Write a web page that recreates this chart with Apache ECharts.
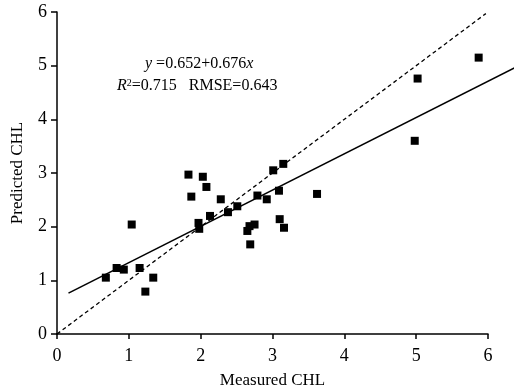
<!DOCTYPE html>
<html><head><meta charset="utf-8">
<script src="https://cdn.jsdelivr.net/npm/echarts@6/dist/echarts.min.js"></script>
<style>html,body{margin:0;padding:0;background:#fff}#c{width:514px;height:387px}</style>
</head><body><div id="c"></div>
<script>
const measured = [0.68,0.83,0.93,1.04,1.15,1.23,1.34,1.83,1.87,1.97,1.98,2.03,2.08,2.13,2.28,2.38,2.51,2.65,2.68,2.69,2.75,2.79,2.92,3.01,3.15,3.09,3.62,3.10,3.16,4.98,5.02,5.87];
const predicted = [1.05,1.23,1.20,2.04,1.23,0.79,1.05,2.97,2.56,2.07,1.96,2.93,2.74,2.20,2.51,2.27,2.38,1.92,2.01,1.67,2.04,2.58,2.51,3.05,3.17,2.67,2.61,2.14,1.98,3.60,4.76,5.15];
const fitIntercept = 0.652, fitSlope = 0.676;
const fitRangeX = [0.16, 6.4];
const oneToOneX = [0, 5.97];
const xTicks = [0,1,2,3,4,5,6];
const yTicks = [0,1,2,3,4,5,6];
const xName = 'Measured CHL', yName = 'Predicted CHL';

const W = 514, gl = 57, gr = 26, gt = 12, gb = 53;
const xMax = 6, yMax = 6;
const xMaxExt = xMax * (W - gl) / (W - gl - gr);

const pts = measured.map((x,i)=>[x,predicted[i]]);
const fitLine = fitRangeX.map(x=>[x, fitIntercept + fitSlope*x]);
const diag = oneToOneX.map(x=>[x,x]);
const font = '"Liberation Serif","Times New Roman",serif';

const chart = echarts.init(document.getElementById('c'));
chart.setOption({
  animation:false,
  backgroundColor:'#fff',
  grid:[{left:gl,right:gr,top:gt,bottom:gb,containLabel:false,outerBoundsMode:'none'},
        {left:gl,right:0,top:gt,bottom:gb,containLabel:false,outerBoundsMode:'none'}],
  xAxis:[{type:'value',min:0,max:xMax,interval:1,gridIndex:0,
    name:xName,nameLocation:'middle',nameGap:38,
    nameTextStyle:{fontFamily:font,fontSize:17,color:'#000'},
    axisLine:{lineStyle:{color:'#000',width:1.5}},
    axisTick:{length:5,lineStyle:{color:'#000',width:1.5}},
    axisLabel:{fontFamily:font,fontSize:18,color:'#000',margin:13},
    splitLine:{show:false}},
   {type:'value',min:0,max:xMaxExt,gridIndex:1,show:false}],
  yAxis:[{type:'value',min:0,max:yMax,interval:1,gridIndex:0,
    name:yName,nameLocation:'middle',nameGap:31,
    nameTextStyle:{fontFamily:font,fontSize:17,color:'#000'},
    axisLine:{show:true,lineStyle:{color:'#000',width:1.5}},
    axisTick:{show:true,length:6,lineStyle:{color:'#000',width:1.5}},
    axisLabel:{fontFamily:font,fontSize:18,color:'#000',margin:10},
    splitLine:{show:false}},
   {type:'value',min:0,max:yMax,gridIndex:1,show:false}],
  graphic:[{
    type:'text',left:145,top:56,
    style:{text:'{i|y} =0.652+0.676{i|x}',
      font:'16px '+font,fill:'#000',
      rich:{i:{fontStyle:'italic',fontFamily:font,fontSize:16}}}
  },{
    type:'text',left:117,top:78,
    style:{text:'{i|R}{s|2}=0.715   RMSE=0.643',
      font:'16px '+font,fill:'#000',
      rich:{i:{fontStyle:'italic',fontFamily:font,fontSize:16},
            s:{fontFamily:font,fontSize:10,verticalAlign:'top',padding:[0,0,6,0]}}}
  }],
  series:[
    {type:'line',data:diag,xAxisIndex:0,yAxisIndex:0,symbol:'none',lineStyle:{color:'#000',width:1.3,type:[4,3]},z:1},
    {type:'line',data:fitLine,xAxisIndex:1,yAxisIndex:1,symbol:'none',lineStyle:{color:'#000',width:1.5},z:1},
    {type:'scatter',data:pts,xAxisIndex:0,yAxisIndex:0,symbol:'rect',symbolSize:8,itemStyle:{color:'#000',opacity:1},z:3}
  ]
});
</script></body></html>
